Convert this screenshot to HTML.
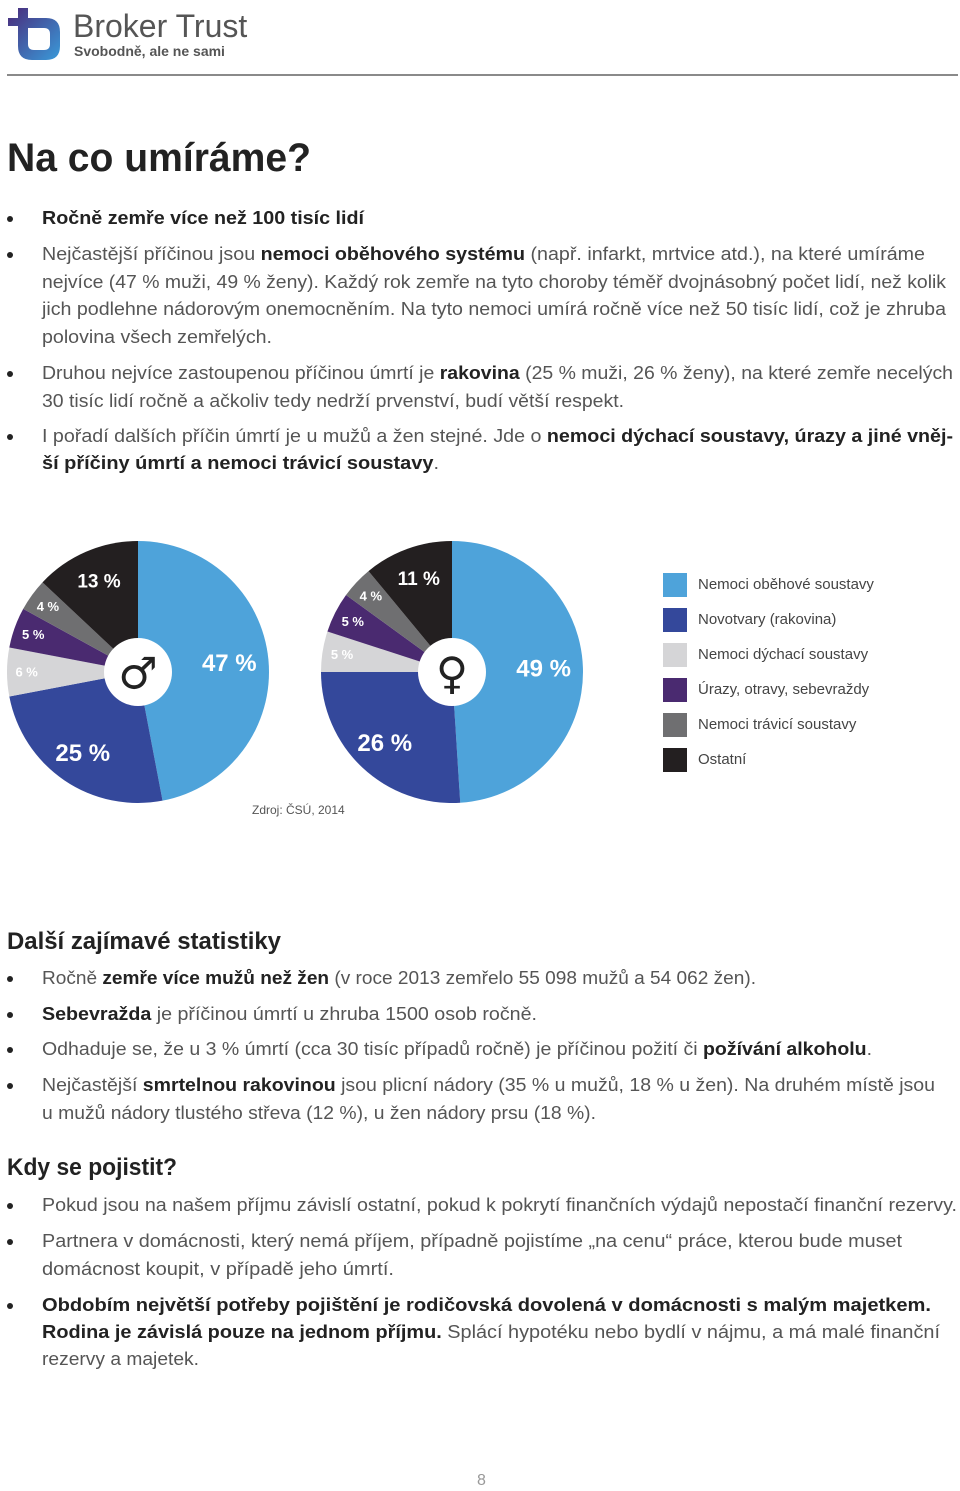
<!DOCTYPE html>
<html lang="cs"><head><meta charset="utf-8">
<style>
body{margin:0;background:#fff;}
#page{position:relative;width:960px;height:1491px;overflow:hidden;font-family:"Liberation Sans",sans-serif;color:#4a4a4a;}
.ln{position:absolute;left:42px;font-size:18px;line-height:20px;white-space:nowrap;transform-origin:0 50%;color:#555;}
.ln b{color:#222;}
.bul{position:absolute;left:7px;width:6px;height:6px;border-radius:50%;background:#222;}
.h{position:absolute;left:7px;font-weight:bold;color:#222;white-space:nowrap;transform-origin:0 50%;}
.lg{position:absolute;left:663px;width:24px;height:24px;}
.lt{position:absolute;left:698px;font-size:15px;color:#444;white-space:nowrap;line-height:18px;}
</style></head><body>
<div id="page">
<svg style="position:absolute;left:6px;top:6px" width="56" height="56">
<defs><linearGradient id="lgd" x1="0" y1="0" x2="1" y2="1"><stop offset="0" stop-color="#4a2a7a"/><stop offset="1" stop-color="#3a9ad9"/></linearGradient></defs>
<path d="M12 2 L12 12 L2 12 L2 20 L12 20 L12 40 Q12 54 26 54 L40 54 Q54 54 54 40 L54 26 Q54 12 40 12 L22 12 L22 2 Z M22 22 L38 22 Q44 22 44 28 L44 38 Q44 44 38 44 L28 44 Q22 44 22 38 Z" fill="url(#lgd)" fill-rule="evenodd"/>
</svg>
<div style="position:absolute;left:73px;top:8px;font-size:32px;color:#555;white-space:nowrap">Broker Trust</div>
<div style="position:absolute;left:74px;top:43px;font-size:14px;font-weight:bold;color:#555;white-space:nowrap">Svobodně, ale ne sami</div>
<div style="position:absolute;left:7px;top:74px;width:951px;height:2px;background:#8a8a8a"></div>

<div class="h" data-w="304" style="top:134px;font-size:40px;line-height:48px">Na co umíráme?</div>

<div id="txt"></div>

<svg id="chart" style="position:absolute;left:0;top:520px" width="960" height="310"></svg>
<div id="legend"></div>
<div style="position:absolute;left:252px;top:803px;font-size:12px;color:#555">Zdroj: ČSÚ, 2014</div>

<div class="h" data-w="274" style="top:927px;font-size:24px;line-height:30px">Další zajímavé statistiky</div>
<div class="h" data-w="170" style="top:1153px;font-size:24px;line-height:30px">Kdy se pojistit?</div>
<div style="position:absolute;left:477px;top:1472px;font-size:16px;color:#999">8</div>
</div>
<script>
const lines=[
 [218,364,'<b>Ročně zemře více než 100 tisíc lidí</b>',1],
 [254,925,'Nejčastější příčinou jsou <b>nemoci oběhového systému</b> (např. infarkt, mrtvice atd.), na které umíráme',1],
 [282,946,'nejvíce (47 % muži, 49 % ženy). Každý rok zemře na tyto choroby téměř dvojnásobný počet lidí, než kolik',0],
 [309,946,'jich podlehne nádorovým onemocněním. Na tyto nemoci umírá ročně více než 50 tisíc lidí, což je zhruba',0],
 [337,272,'polovina všech zemřelých.',0],
 [373,953,'Druhou nejvíce zastoupenou příčinou úmrtí je <b>rakovina</b> (25 % muži, 26 % ženy), na které zemře necelých',1],
 [401,624,'30 tisíc lidí ročně a ačkoliv tedy nedrží prvenství, budí větší respekt.',0],
 [436,953,'I pořadí dalších příčin úmrtí je u mužů a žen stejné. Jde o <b>nemoci dýchací soustavy, úrazy a jiné vněj-</b>',1],
 [463,439,'<b>ší příčiny úmrtí a nemoci trávicí soustavy</b>.',0],
 [978,756,'Ročně <b>zemře více mužů než žen</b> (v roce 2013 zemřelo 55 098 mužů a 54 062 žen).',1],
 [1014,537,'<b>Sebevražda</b> je příčinou úmrtí u zhruba 1500 osob ročně.',1],
 [1049,872,'Odhaduje se, že u 3 % úmrtí (cca 30 tisíc případů ročně) je příčinou požití či <b>požívání alkoholu</b>.',1],
 [1085,935,'Nejčastější <b>smrtelnou rakovinou</b> jsou plicní nádory (35 % u mužů, 18 % u žen). Na druhém místě jsou',1],
 [1113,596,'u mužů nádory tlustého střeva (12 %), u žen nádory prsu (18 %).',0],
 [1205,957,'Pokud jsou na našem příjmu závislí ostatní, pokud k pokrytí finančních výdajů nepostačí finanční rezervy.',1],
 [1241,902,'Partnera v domácnosti, který nemá příjem, případně pojistíme „na cenu“ práce, kterou bude muset',1],
 [1269,394,'domácnost koupit, v případě jeho úmrtí.',0],
 [1305,931,'<b>Obdobím největší potřeby pojištění je rodičovská dovolená v domácnosti s malým majetkem.</b>',1],
 [1332,940,'<b>Rodina je závislá pouze na jednom příjmu.</b> Splácí hypotéku nebo bydlí v nájmu, a má malé finanční',0],
 [1359,199,'rezervy a majetek.',0]
];
const page=document.getElementById('page');
lines.forEach((l,i)=>{
 const d=document.createElement('div');d.className='ln';d.style.top=(l[0]-10)+'px';d.innerHTML=l[2];d.dataset.w=l[1]-42;
 
 
 page.appendChild(d);
 if(l[3]){const b=document.createElement('div');b.className='bul';b.style.top=(l[0]-2)+'px';
 
 
 page.appendChild(b);}
});
document.querySelectorAll('[data-w]').forEach(e=>{const w=e.getBoundingClientRect().width;e.style.transform='scaleX('+(+e.dataset.w/w)+')';});

// chart data
const categories=['Nemoci oběhové soustavy','Novotvary (rakovina)','Nemoci dýchací soustavy','Úrazy, otravy, sebevraždy','Nemoci trávicí soustavy','Ostatní'];
const maleValues=[47,25,6,5,4,13];
const femaleValues=[49,26,5,5,4,11];
const colors=['#4ea3da','#34489b','#d5d5d7','#4a2a70','#6f6f71','#231f20'];
const svg=document.getElementById('chart');const NS='http://www.w3.org/2000/svg';
function pie(cx,cy,r,vals,sym,name){
 const tot=vals.reduce((a,b)=>a+b,0);let acc=0;
 vals.forEach((v,i)=>{
  const a0=acc/tot*2*Math.PI;acc+=v;const a1=acc/tot*2*Math.PI;
  const p=document.createElementNS(NS,'path');
  const x0=cx+r*Math.sin(a0),y0=cy-r*Math.cos(a0),x1=cx+r*Math.sin(a1),y1=cy-r*Math.cos(a1);
  p.setAttribute('d',`M${cx} ${cy} L${x0} ${y0} A${r} ${r} 0 ${(a1-a0)>Math.PI?1:0} 1 ${x1} ${y1} Z`);
  p.setAttribute('fill',colors[i]);
  
  
  svg.appendChild(p);
  const am=(a0+a1)/2;const big=v>=10;const rr=big?(i==0?0.7:0.75)*r:0.85*r;
  const t=document.createElementNS(NS,'text');
  t.setAttribute('x',cx+rr*Math.sin(am));t.setAttribute('y',cy-rr*Math.cos(am));
  t.setAttribute('text-anchor','middle');t.setAttribute('dominant-baseline','central');
  t.setAttribute('fill',i==2?'#fff':'#fff');t.setAttribute('font-weight','bold');
  t.setAttribute('font-family','Liberation Sans, sans-serif');t.setAttribute('font-size',big?(i<2?24:19):13);
  t.textContent=v+' %';
  
  
  svg.appendChild(t);
 });
 const c=document.createElementNS(NS,'circle');c.setAttribute('cx',cx);c.setAttribute('cy',cy);c.setAttribute('r',34);c.setAttribute('fill','#fff');
 
 
 svg.appendChild(c);
 const s=document.createElementNS(NS,'text');s.setAttribute('x',cx);s.setAttribute('y',cy+2);s.setAttribute('text-anchor','middle');s.setAttribute('dominant-baseline','central');
 s.setAttribute('font-size',44);s.setAttribute('font-family','DejaVu Sans, sans-serif');s.setAttribute('fill','#222');s.textContent=sym;
 
 
 svg.appendChild(s);
}
pie(138,152,131,maleValues,'♂','male-pie');
pie(452,152,131,femaleValues,'♀','female-pie');
categories.forEach((c,i)=>{
 const sq=document.createElement('div');sq.className='lg';sq.style.top=(573+i*35)+'px';sq.style.background=colors[i];
 
 
 page.appendChild(sq);
 const t=document.createElement('div');t.className='lt';t.style.top=(576+i*35)+'px';t.textContent=c;
 
 
 page.appendChild(t);
});
</script>
</body></html>
